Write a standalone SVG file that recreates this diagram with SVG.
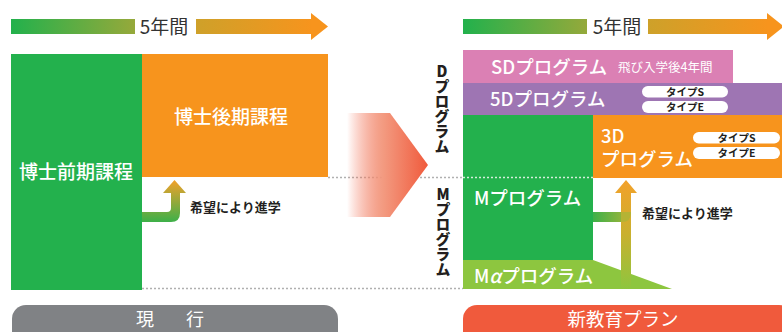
<svg xmlns="http://www.w3.org/2000/svg" width="782" height="332" viewBox="0 0 782 332">
<defs>
<linearGradient id="gTop" x1="0" y1="0" x2="1" y2="0">
<stop offset="0" stop-color="#22B14C"/><stop offset="0.4" stop-color="#93A93B"/><stop offset="0.6" stop-color="#CDA12A"/><stop offset="1" stop-color="#F7941D"/>
</linearGradient>
<linearGradient id="gBig" x1="0" y1="0" x2="1" y2="0">
<stop offset="0" stop-color="#F05A3C" stop-opacity="0"/><stop offset="0.45" stop-color="#F39A80"/><stop offset="1" stop-color="#F05A3C"/>
</linearGradient>
<linearGradient id="gUpL" gradientUnits="userSpaceOnUse" x1="0" y1="222" x2="0" y2="180">
<stop offset="0" stop-color="#3DB049"/><stop offset="1" stop-color="#F3A12B"/>
</linearGradient>
<linearGradient id="gUpR" gradientUnits="userSpaceOnUse" x1="0" y1="289" x2="0" y2="180">
<stop offset="0" stop-color="#8DC63F"/><stop offset="0.5" stop-color="#C9B02E"/><stop offset="1" stop-color="#F3A12B"/>
</linearGradient>
<linearGradient id="gBrR" gradientUnits="userSpaceOnUse" x1="593" y1="0" x2="631" y2="0">
<stop offset="0" stop-color="#3DB049"/><stop offset="1" stop-color="#A8B538"/>
</linearGradient>
</defs>
<style>
text{font-family:"Noto Sans CJK JP","Noto Sans",sans-serif}
.big{font-size:19px;fill:#fff;font-weight:500}
.prog{font-size:18.5px;fill:#fff;font-weight:500}
.note{font-size:13px;font-weight:bold;fill:#231F20}
.vt{font-size:15px;font-weight:900;fill:#231F20;writing-mode:vertical-rl;text-orientation:upright}
.pill{fill:#fff}
.pt{font-size:10.5px;font-weight:bold;fill:#231F20}
.yr{font-size:19px;fill:#333}
.dot{stroke:#B0B0B0;stroke-width:1.5;stroke-dasharray:2 2;fill:none}
</style>

<g id="connectors">
<line class="dot" x1="328" y1="177.5" x2="463" y2="177.5"/>
<line class="dot" x1="142" y1="288.5" x2="463" y2="288.5"/>
<polygon points="347,113 390,113 428,165 390,217 347,217" fill="url(#gBig)"/>
</g>

<g id="topArrowLeft">
<rect x="11" y="19" width="302" height="15" fill="url(#gTop)"/>
<polygon points="311,13 328,26.5 311,40" fill="#F7941D"/>
<rect x="135" y="15" width="61" height="24" fill="#fff"/>
<text class="yr" x="164" y="34" text-anchor="middle">5年間</text>
</g>
<g id="topArrowRight">
<rect x="463" y="19" width="306" height="15" fill="url(#gTop)"/>
<polygon points="767,13 784,26.5 767,40" fill="#F7941D"/>
<rect x="587" y="15" width="61" height="24" fill="#fff"/>
<text class="yr" x="617" y="34" text-anchor="middle">5年間</text>
</g>

<g id="zenki">
<rect x="11" y="54" width="131" height="236" fill="#23B14D"/>
<text class="big" x="76" y="179" text-anchor="middle">博士前期課程</text>
</g>
<g id="kouki">
<rect x="142" y="54" width="186" height="123" fill="#F7941D"/>
<text class="big" x="231" y="124" text-anchor="middle">博士後期課程</text>
</g>
<g id="arrowLeft">
<path d="M142,212 H167 Q171,212 171,208 V193 H163 L174.5,180 L186,193 H180 V213 Q180,222 171,222 H142 Z" fill="url(#gUpL)"/>
<text class="note" x="190" y="212">希望により進学</text>
</g>

<g id="sd">
<rect x="463" y="50" width="270" height="33" fill="#DB80B4"/>
<text class="prog" x="491" y="74">SDプログラム</text>
<text x="618" y="72" style="font-size:12.5px;fill:#fff">飛び入学後4年間</text>
</g>
<g id="fived">
<rect x="463" y="83" width="319" height="32" fill="#9E75B3"/>
<text class="prog" x="490" y="106">5Dプログラム</text>
<rect class="pill" x="642" y="86" width="86" height="11.5" rx="5.75"/>
<text class="pt" x="685" y="95.5" text-anchor="middle">タイプS</text>
<rect class="pill" x="642" y="101" width="86" height="12" rx="6"/>
<text class="pt" x="685" y="111" text-anchor="middle">タイプE</text>
</g>
<g id="mprog">
<rect x="463" y="115" width="130" height="145" fill="#23B14D"/>
<line x1="463" y1="177.5" x2="593" y2="177.5" stroke="#fff" stroke-width="1.5" stroke-dasharray="2 2" opacity="0.8"/>
<text class="prog" x="474" y="205">Mプログラム</text>
</g>
<g id="threed">
<rect x="593" y="115" width="189" height="63" fill="#F7941D"/>
<text class="prog"><tspan x="601" y="143">3D</tspan><tspan x="601" y="166">プログラム</tspan></text>
<rect class="pill" x="693" y="132" width="87" height="11.5" rx="5.75"/>
<text class="pt" x="736.5" y="141.5" text-anchor="middle">タイプS</text>
<rect class="pill" x="693" y="147" width="87" height="12" rx="6"/>
<text class="pt" x="736.5" y="157" text-anchor="middle">タイプE</text>
</g>
<g id="malpha">
<polygon points="463,260 593,260 672,289 463,289" fill="#8DC63F"/>
<text class="prog" x="474" y="283">M<tspan font-style="italic">α</tspan>プログラム</text>
</g>
<g id="arrowRight">
<path d="M621,289 V193 H615 L626,180 L637,193 H631 V289 Z" fill="url(#gUpR)"/>
<path d="M593,212 H621 V222 H593 Z" fill="url(#gBrR)"/>
<path d="M621,212 H631 V213 Q631,222 622,222 H621 Z" fill="#B5B334"/>
<text class="note" x="642" y="218">希望により進学</text>
</g>

<g id="labelD">
<text class="vt" x="442" y="64">Dプログラム</text>
</g>
<g id="labelM">
<text class="vt" x="443" y="187">Mプログラム</text>
</g>

<g id="genkou">
<rect x="12" y="305" width="326" height="40" rx="14" fill="#808285"/>
<text x="145" y="326" text-anchor="middle" style="font-size:18px;fill:#fff">現</text>
<text x="195" y="326" text-anchor="middle" style="font-size:18px;fill:#fff">行</text>
</g>
<g id="shinkyouiku">
<rect x="463" y="305" width="330" height="40" rx="14" fill="#F05A3C"/>
<text x="623" y="326" text-anchor="middle" style="font-size:18.5px;fill:#fff">新教育プラン</text>
</g>
</svg>
